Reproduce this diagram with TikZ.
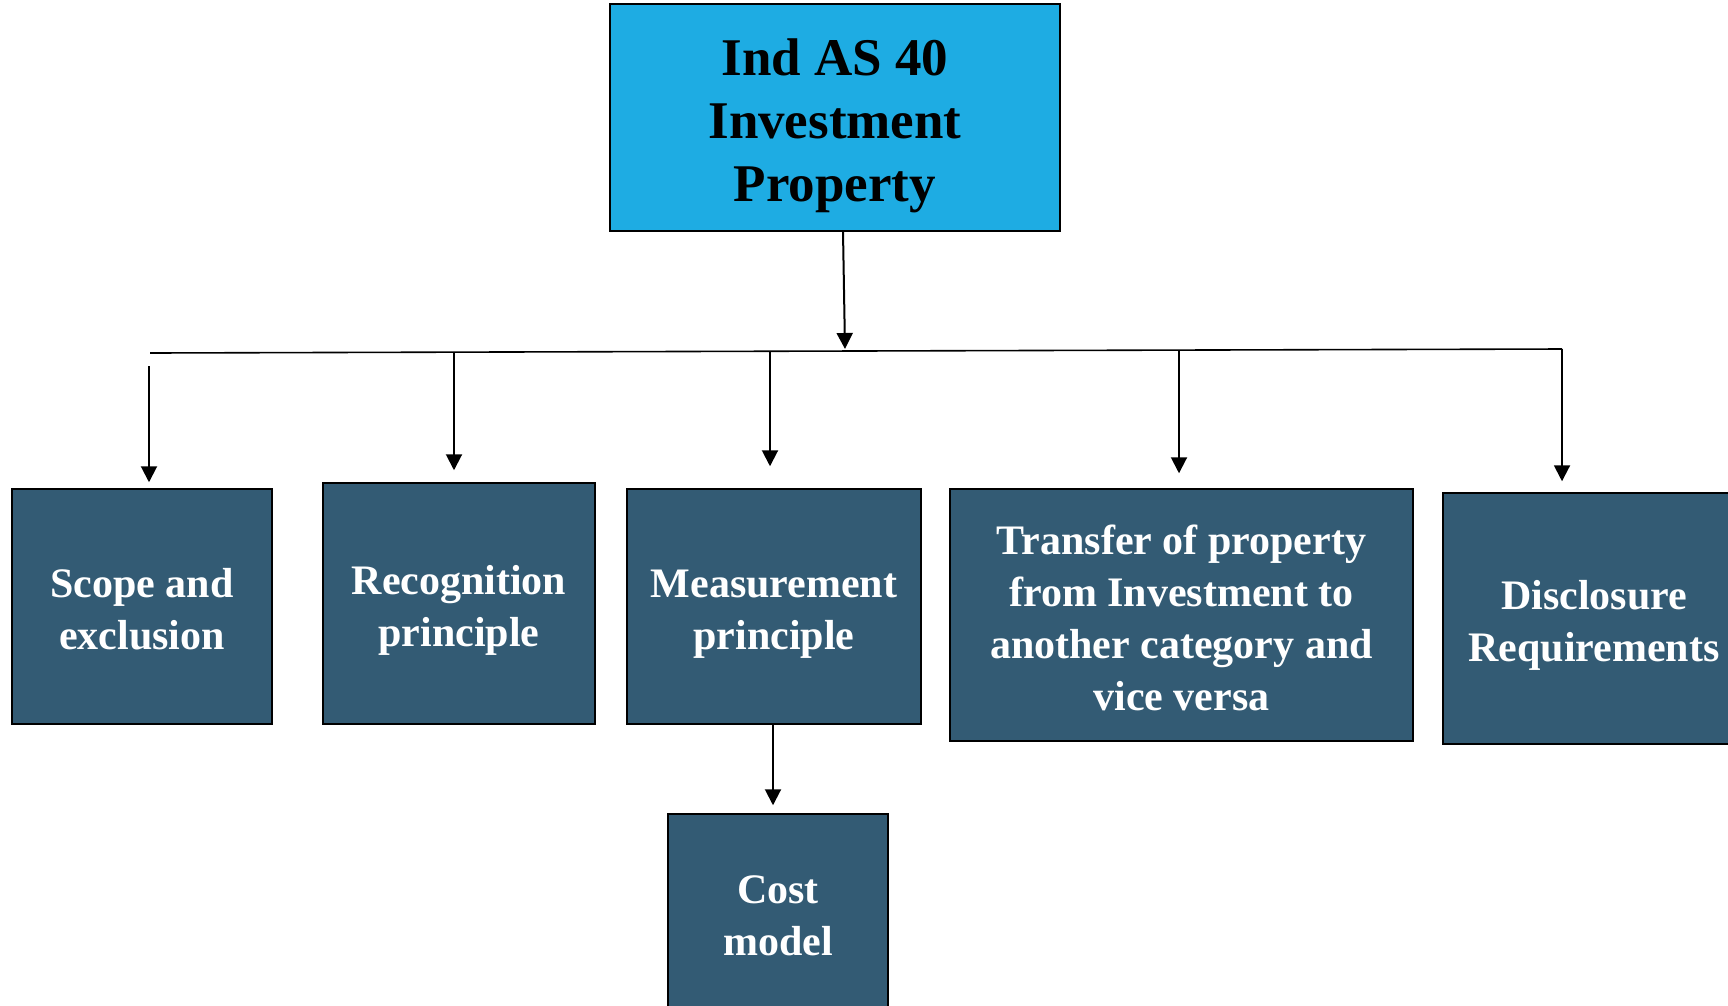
\documentclass[tikz,border=0pt]{standalone}
\usepackage{fontspec}
\setmainfont{Liberation Serif}
\usetikzlibrary{arrows.meta}
\definecolor{topblue}{HTML}{1EACE3}
\definecolor{boxblue}{HTML}{335B74}
\tikzset{
  titlebox/.style={draw=black, line width=1.5pt, fill=topblue, inner sep=0pt},
  titletext/.style={text=black, align=center, inner sep=0pt, font=\bfseries\fontsize{53}{63}\selectfont},
  childbox/.style={draw=black, line width=1.5pt, fill=boxblue, inner sep=0pt},
  childtext/.style={text=white, align=center, inner sep=0pt, font=\bfseries\fontsize{42}{52}\selectfont},
  arr/.style={line width=2pt, -{Triangle[width=16pt,length=16pt]}},
  bus/.style={line width=1.6pt}
}
\begin{document}
\begin{tikzpicture}[x=1pt,y=-1pt]
\useasboundingbox (0,0) rectangle (1728,1005);
\node[titlebox, minimum width=450pt, minimum height=227pt] (top) at (835,117.5) {};
\node[titletext] (topT) at ([yshift=-8pt]top.center) {Ind AS 40\\Investment\\Property};
\node[childbox, minimum width=260pt, minimum height=235pt] (scope) at (142,606.5) {};
\node[childtext] (scopeT) at ([yshift=-3pt]scope.center) {Scope and\\exclusion};
\node[childbox, minimum width=272pt, minimum height=241pt] (recog) at (459,603.5) {};
\node[childtext] (recogT) at ([yshift=-7pt]recog.center) {Recognition\\principle};
\node[childbox, minimum width=294pt, minimum height=235pt] (meas) at (774,606.5) {};
\node[childtext] (measT) at ([yshift=-8pt]meas.center) {Measurement\\principle};
\node[childbox, minimum width=463pt, minimum height=252pt] (trans) at (1181.5,615) {};
\node[childtext] (transT) at ([yshift=-3pt]trans.center) {Transfer of property\\from Investment to\\another category and\\vice versa};
\node[childbox, minimum width=302pt, minimum height=251pt] (disc) at (1594,618.5) {};
\node[childtext] (discT) at ([yshift=-7pt]disc.center) {Disclosure\\Requirements};
\node[childbox, minimum width=220pt, minimum height=200pt] (cost) at (778,914) {};
\node[childtext] (costT) at ([yshift=-2pt]cost.center) {Cost\\model};
% bus
\coordinate (busL) at (150,353);
\coordinate (busR) at (1562,349);
\coordinate (tb) at (845,349);
\coordinate (b1) at (149,366);
\coordinate (b2) at (454,352);
\coordinate (b3) at (770,351);
\coordinate (b4) at (1179,351);
\coordinate (c1) at (773,0);
\draw[bus] (busL) -- (busR);
\draw[arr] (top.south -| 843,0) -- (tb);
\draw[arr, shorten >=6pt] (b1) -- (b1 |- scope.north);
\draw[arr, shorten >=12pt] (b2) -- (b2 |- recog.north);
\draw[arr, shorten >=22pt] (b3) -- (b3 |- meas.north);
\draw[arr, shorten >=15pt] (b4) -- (b4 |- trans.north);
\draw[arr, shorten >=11pt] (busR) -- (busR |- disc.north);
\draw[arr, shorten >=8pt] (meas.south -| c1) -- (cost.north -| c1);
\end{tikzpicture}
\end{document}
